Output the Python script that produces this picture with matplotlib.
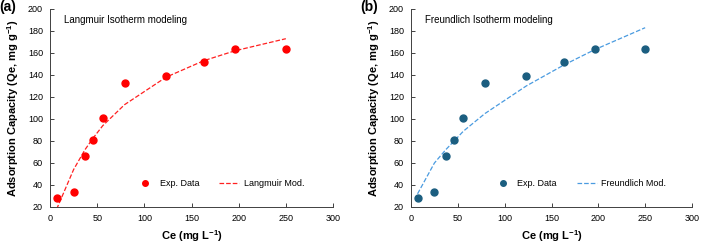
import matplotlib
matplotlib.use('Agg')
import matplotlib.pyplot as plt

plt.rcParams['font.family'] = ['Liberation Sans', 'DejaVu Sans']
plt.rcParams['mathtext.default'] = 'regular'

# experimental data
ce = [7, 25, 37, 46, 56, 79, 123, 163, 196, 250]
qe = [28, 34, 66, 81, 101, 133, 139, 152, 164, 164]

# model curves (at the same Ce values)
langmuir_fit = [18, 54, 72, 83, 94, 113, 138, 153, 162, 173]
freundlich_fit = [32, 60, 72, 80, 89, 105, 130, 149, 163, 183]

panels = [
    ('(a)', 'Langmuir Isotherm modeling', 'Langmuir Mod.', langmuir_fit, '#ff0000', '#ff2020'),
    ('(b)', 'Freundlich Isotherm modeling', 'Freundlich Mod.', freundlich_fit, '#1b5e80', '#4a9be0'),
]

fig = plt.figure(figsize=(7.01, 2.44), dpi=100)
positions = [[50 / 701, 37 / 244, 283 / 701, 198 / 244],
             [411 / 701, 37 / 244, 281 / 701, 198 / 244]]

for pos, (tag, title, mod_label, fit, pcol, lcol) in zip(positions, panels):
    ax = fig.add_axes(pos)
    ax.plot(ce, qe, 'o', color=pcol, markersize=5, label='Exp. Data', zorder=3)
    ax.plot(ce, fit, '--', color=lcol, linewidth=0.9, label=mod_label, zorder=2)
    ax.set_xlim(0, 300)
    ax.set_ylim(20, 200)
    ax.set_xticks(range(0, 301, 50))
    ax.set_yticks(range(20, 201, 20))
    for s in ['top', 'right']:
        ax.spines[s].set_visible(False)
    for s in ['left', 'bottom']:
        ax.spines[s].set_color('#404040')
        ax.spines[s].set_linewidth(0.7)
    ax.tick_params(direction='in', length=3, width=0.7, color='#404040',
                   labelsize=6.5, pad=5)
    ax.set_xlabel('Ce (mg L$^{-1}$)', fontsize=8, fontweight='bold', labelpad=4)
    ax.set_ylabel('Adsorption Capacity (Qe, mg g$^{-1}$)', fontsize=8,
                  fontweight='bold', labelpad=5)
    ax.text(0.05, 0.97, title, transform=ax.transAxes, fontsize=7,
            ha='left', va='top')
    ax.text(-0.18, 1.01, tag, transform=ax.transAxes, fontsize=10,
            fontweight='bold', ha='left', va='center')
    ax.legend(loc='center', bbox_to_anchor=(0.60, 0.12), ncol=2, frameon=False,
              fontsize=6.5, handlelength=2.2, columnspacing=2.2,
              markerscale=0.8, handletextpad=0.5)

fig.savefig('out.png', dpi=100)
